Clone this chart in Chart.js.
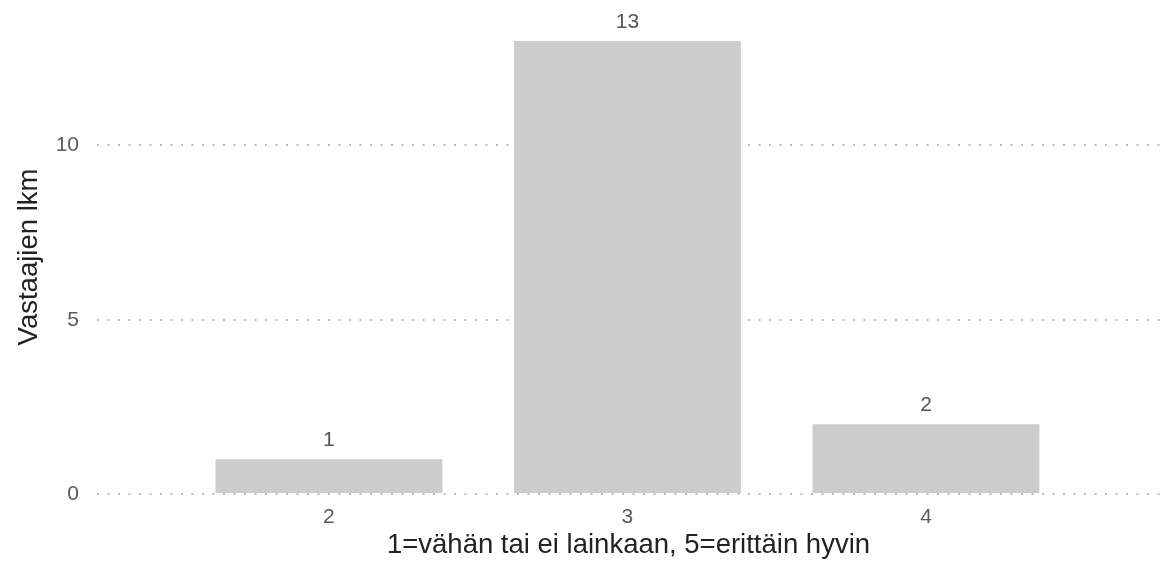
<!DOCTYPE html>
<html>
<head>
<meta charset="utf-8">
<title>Vastaajien lkm</title>
<script src="https://cdn.jsdelivr.net/npm/chart.js@4"></script>
<style>
    html, body { margin: 0; padding: 0; background: #ffffff; }
    #wrap { width: 1166px; height: 563px; }
</style>
</head>
<body>
<div id="wrap"><canvas id="answerChart" width="1166" height="563"></canvas></div>
<script>
// answer scale values and how many respondents picked each
const scaleValues = [2, 3, 4];
const respondentCounts = [1, 13, 2];
const yTickValues = [0, 5, 10];

const xTitle = "1=vähän tai ei lainkaan, 5=erittäin hyvin";
const yTitle = "Vastaajien lkm";

const fontFamily = "'Liberation Sans', Arial, sans-serif";

// draws the count above every bar
const valueLabels = {
    id: "valueLabels",
    afterDatasetsDraw(chart) {
        const ctx = chart.ctx;
        const meta = chart.getDatasetMeta(0);
        ctx.save();
        ctx.font = "21px " + fontFamily;
        ctx.fillStyle = "#555555";
        ctx.textAlign = "center";
        ctx.textBaseline = "alphabetic";
        meta.data.forEach((bar, i) => {
            ctx.fillText(String(respondentCounts[i]), bar.x, bar.y - 13);
        });
        ctx.restore();
    }
};

const ctx = document.getElementById("answerChart").getContext("2d");

new Chart(ctx, {
    type: "bar",
    data: {
        datasets: [{
            data: scaleValues.map((v, i) => ({ x: v, y: respondentCounts[i] })),
            backgroundColor: "#cccccc",
            borderWidth: 0,
            categoryPercentage: 1,
            barPercentage: 0.76
        }]
    },
    options: {
        responsive: false,
        animation: false,
        layout: { padding: { left: 0, right: 6, top: 20, bottom: 0 } },
        plugins: {
            legend: { display: false },
            tooltip: { enabled: false }
        },
        scales: {
            x: {
                type: "linear",
                offset: false,
                min: 1.223,
                max: 4.784,
                afterBuildTicks: (s) => { s.ticks = scaleValues.map(v => ({ value: v })); },
                afterFit: (s) => { s.height = 69; s.paddingLeft = 0; s.paddingRight = 0; },
                grid: { display: false, drawTicks: false },
                border: { display: false },
                ticks: {
                    padding: 11,
                    color: "#5a5a5a",
                    font: { family: fontFamily, size: 21 }
                },
                title: {
                    display: true,
                    text: xTitle,
                    color: "#222222",
                    padding: { top: 0, bottom: 1 },
                    font: { family: fontFamily, size: 27.5 }
                }
            },
            y: {
                min: 0,
                max: 13.6,
                afterBuildTicks: (s) => { s.ticks = yTickValues.map(v => ({ value: v })); },
                afterFit: (s) => { s.width = 97; s.paddingTop = 0; s.paddingBottom = 0; },
                grid: {
                    drawTicks: false,
                    color: "#bbbbbb",
                    lineWidth: 2
                },
                border: { display: false, dash: [2, 8.5] },
                ticks: {
                    padding: 18,
                    color: "#5a5a5a",
                    font: { family: fontFamily, size: 21 }
                },
                title: {
                    display: true,
                    text: yTitle,
                    color: "#222222",
                    padding: { top: 13, bottom: 0 },
                    font: { family: fontFamily, size: 27.5 }
                }
            }
        }
    },
    plugins: [valueLabels]
});
</script>
</body>
</html>
